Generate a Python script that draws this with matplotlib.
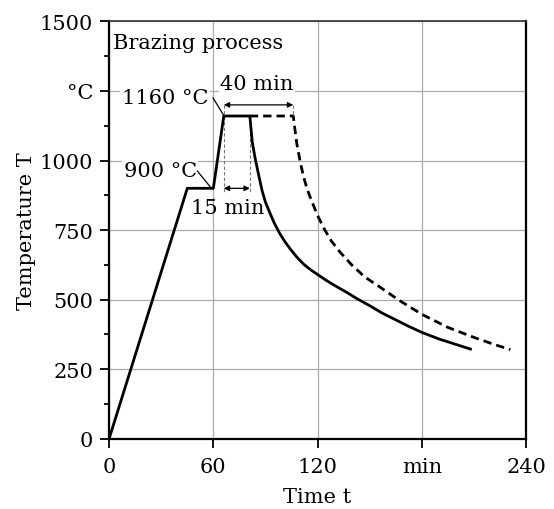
import matplotlib
matplotlib.use("Agg")
import matplotlib.pyplot as plt
from matplotlib.ticker import MultipleLocator

plt.rcParams["font.family"] = ["DejaVu Serif"]

# heating ramp + 15 min hold (solid)
solid_t = [0, 45, 60, 66, 81, 82.4, 84, 86, 88, 90, 92.5, 95, 98, 101, 104,
           108, 112, 116, 120, 125, 130, 137, 143, 150, 157, 165, 172, 180,
           190, 200, 208]
solid_T = [0, 900, 900, 1160, 1160, 1066, 1010, 950, 893, 850, 812, 776, 740,
           710, 684, 653, 627, 607, 590, 569, 550, 525, 502, 478, 452, 427,
           405, 382, 358, 338, 322]

# 40 min hold (dashed)
dash_t = [81, 106, 107, 108, 110, 112, 114, 116.5, 120, 124, 128, 133, 139.6,
          147, 156.8, 167, 180, 195, 210, 221, 231]
dash_T = [1160, 1160, 1110, 1062, 995, 940, 897, 856, 802, 752, 710, 670, 625,
          582, 541, 497, 447, 400, 364, 340, 320]

x_ticks = [0, 60, 120, 180, 240]
x_labels = ["0", "60", "120", "min", "240"]
y_ticks = [0, 250, 500, 750, 1000, 1250, 1500]
y_labels = ["0", "250", "500", "750", "1000", "°C", "1500"]

fig = plt.figure(figsize=(5.54, 5.10), dpi=100)
ax = fig.add_axes([0.197, 0.138, 0.7525, 0.818])

ax.plot(solid_t, solid_T, color="black", lw=2.0, solid_joinstyle="round", zorder=3)
ax.plot(dash_t, dash_T, color="black", lw=2.0, dashes=(3.0, 1.8), zorder=3)

# extension lines
ext = dict(color="#777777", lw=0.8, ls=(0, (3, 2)), zorder=2)
ax.plot([66, 66], [1200, 885], **ext)
ax.plot([81, 81], [1160, 885], **ext)
ax.plot([106, 106], [1200, 1160], **ext)

# dimension arrows
arr = dict(arrowstyle="<|-|>", color="black", lw=0.9, mutation_scale=8,
           shrinkA=0, shrinkB=0)
ax.annotate("", xy=(66, 1200), xytext=(106, 1200), arrowprops=arr)
ax.annotate("", xy=(66, 900), xytext=(81, 900), arrowprops=arr)

fs = 15
box = dict(facecolor="white", edgecolor="none", pad=1)
ax.text(85, 1278, "40 min", ha="center", va="center", fontsize=fs, bbox=box, zorder=4)
ax.text(68, 830, "15 min", ha="center", va="center", fontsize=fs, zorder=4)
ax.text(57, 1225, "1160 °C", ha="right", va="center", fontsize=fs, bbox=box, zorder=4)
ax.text(50.5, 964, "900 °C", ha="right", va="center", fontsize=fs, bbox=box, zorder=4)
ax.plot([59.8, 66], [1225, 1162], color="black", lw=0.9, zorder=4)
ax.plot([50.8, 58.5], [962, 903], color="black", lw=0.9, zorder=4)
ax.text(2.3, 1425, "Brazing process", ha="left", va="center", fontsize=fs, zorder=4)

ax.set_xlim(0, 240)
ax.set_ylim(0, 1500)
ax.set_xticks(x_ticks)
ax.set_xticklabels(x_labels)
ax.set_yticks(y_ticks)
ax.set_yticklabels(y_labels)
ax.yaxis.set_minor_locator(MultipleLocator(125))
ax.tick_params(axis="both", which="major", direction="out", length=6.5, width=1.3,
               labelsize=fs)
ax.tick_params(axis="x", which="major", pad=7)
ax.tick_params(axis="y", which="major", pad=5)
ax.tick_params(axis="y", which="minor", direction="out", length=3.6, width=1.3)
ax.grid(True, which="major", color="#aaaaaa", lw=0.9, zorder=0)

for side in ["left", "bottom", "right"]:
    ax.spines[side].set_linewidth(1.6)
ax.spines["top"].set_linewidth(1.2)
ax.spines["top"].set_color("#333333")

ax.set_xlabel("Time t", fontsize=fs, labelpad=8)
ax.set_ylabel("Temperature T", fontsize=fs, labelpad=2.5)

fig.savefig("out.png", dpi=100)
